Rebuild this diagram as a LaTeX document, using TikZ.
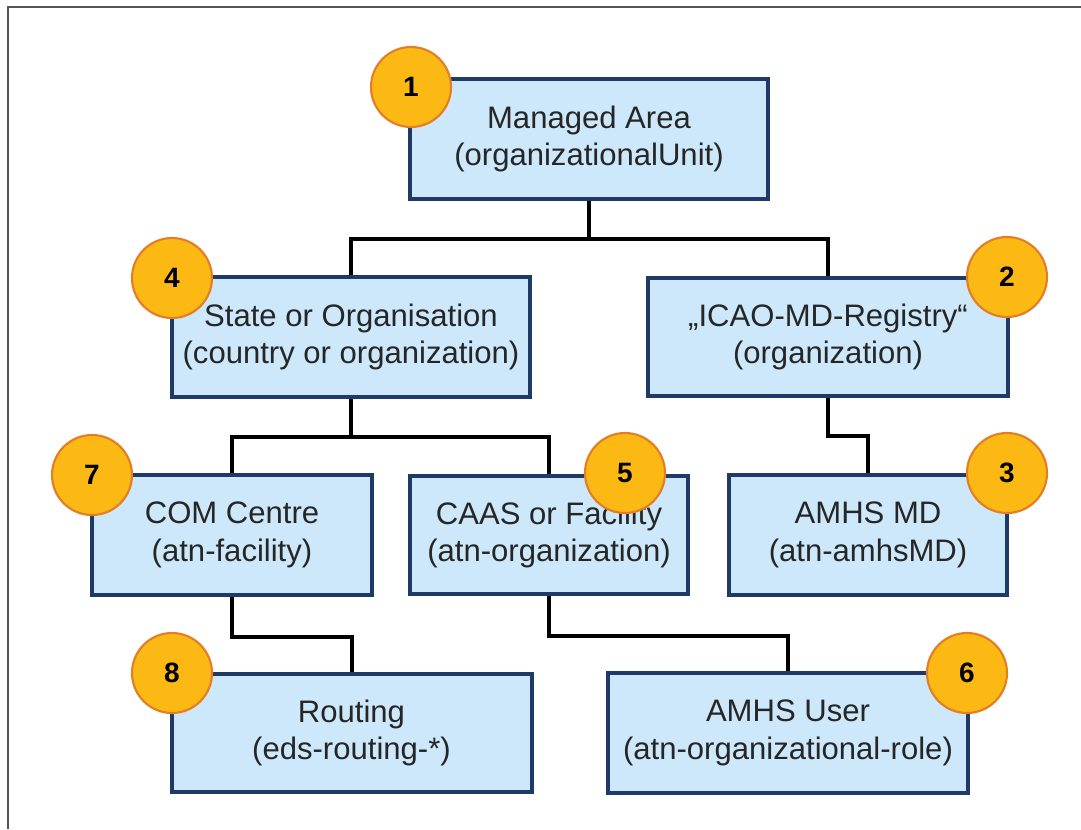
\documentclass[tikz,border=0pt]{standalone}
\usepackage{fontspec}
\setmainfont{Liberation Sans}
\definecolor{boxfill}{HTML}{CCE8FA}
\definecolor{boxline}{HTML}{1F3A66}
\definecolor{badgefill}{HTML}{FDB913}
\definecolor{badgeline}{HTML}{E37D26}
\definecolor{frameline}{HTML}{555555}
\tikzset{
  entity/.style={draw=boxline, fill=boxfill, line width=3pt, align=center,
    inner sep=0pt, font=\fontsize{23.3}{28}\selectfont, text=black!85},
  badge/.style={circle, draw=badgeline, fill=badgefill, line width=1.6pt,
    minimum size=60pt, inner sep=0pt, font=\fontsize{21}{21}\selectfont\bfseries},
  link/.style={draw=black, line width=3pt}
}
\begin{document}
\begin{tikzpicture}[x=0.75pt, y=-0.75pt]
\useasboundingbox (0,0) rectangle (1081,829);
\draw[frameline, line width=1.5pt] (8,829) -- (8,7) -- (1081,7);
% boxes
\node[entity, minimum width=268.5pt, minimum height=90pt] (b1) at (589,139) {Managed Area\\(organizationalUnit)};
\node[entity, minimum width=269pt, minimum height=90pt] (b4) at (351,337) {State or Organisation\\(country or organization)};
\node[entity, minimum width=270pt, minimum height=89pt] (b2) at (828,337) {„ICAO-MD-Registry“\\(organization)};
\node[entity, minimum width=210pt, minimum height=90pt] (b7) at (232,535) {COM Centre\\(atn-facility)};
\node[entity, minimum width=208.5pt, minimum height=89pt] (b5) at (549,535) {CAAS or Facility\\(atn-organization)};
\node[entity, minimum width=209pt, minimum height=90pt] (b3) at (868,535) {AMHS MD\\(atn-amhsMD)};
\node[entity, minimum width=270pt, minimum height=89pt] (b8) at (351.5,733) {Routing\\(eds-routing-*)};
\node[entity, minimum width=270pt, minimum height=90pt] (b6) at (788,733) {AMHS User\\(atn-organizational-role)};
% connectors
\draw[link] (b1.south) -- ++(0,38) -| (b4.north);
\draw[link] (b1.south) -- ++(0,38) -| (b2.north);
\draw[link] (b4.south) -- ++(0,38) -| (b7.north);
\draw[link] (b4.south) -- ++(0,38) -| (b5.north);
\draw[link] (b2.south) -- ++(0,38) -| (b3.north);
\draw[link] (b7.south) -- ++(0,40) -| (b8.north);
\draw[link] (b5.south) -- ++(0,40) -| (b6.north);
% badges
\node[badge] (n1) at (411,87) {1};
\node[badge] (n2) at (1007,277) {2};
\node[badge] (n3) at (1007,473) {3};
\node[badge] (n4) at (172,278) {4};
\node[badge] (n5) at (625,473) {5};
\node[badge] (n6) at (967,673) {6};
\node[badge] (n7) at (92,475) {7};
\node[badge] (n8) at (172,673) {8};
\end{tikzpicture}
\end{document}
